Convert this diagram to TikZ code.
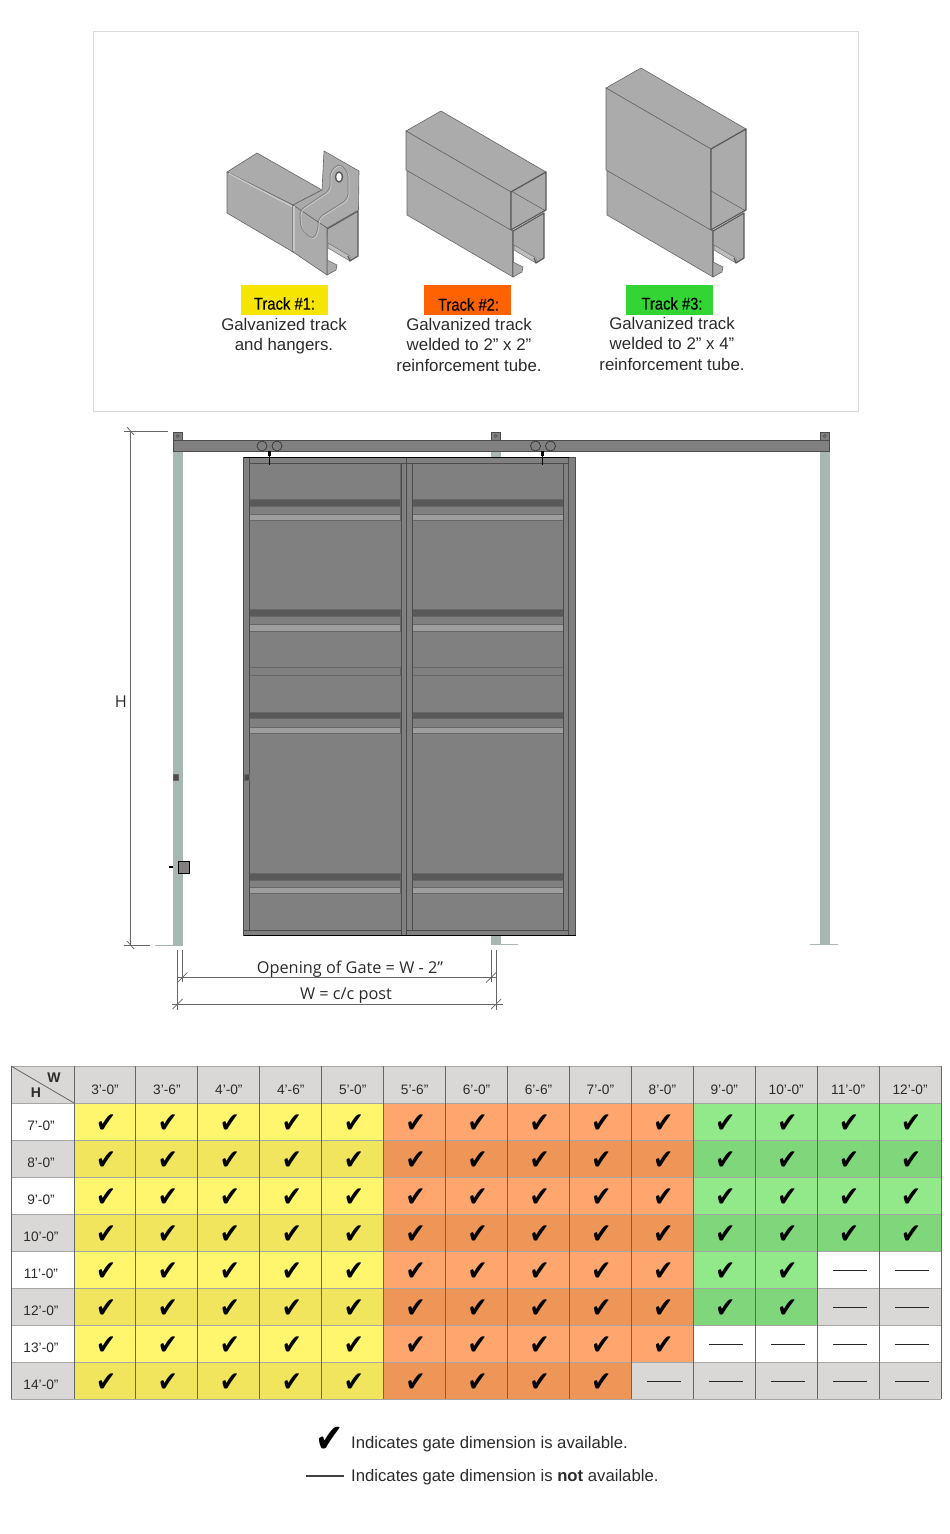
\documentclass[tikz,border=0pt]{standalone}
\usepackage{fontspec}
\setmainfont{Liberation Sans}
\newfontfamily\dimfont{Open Sans}
\newfontfamily\trackfont[FakeStretch=0.87,FakeBold=0.4]{Liberation Sans}
\newfontfamily\markfont[FakeStretch=0.85]{DejaVu Sans}
\definecolor{yel}{HTML}{FFF66E}
\definecolor{yelD}{HTML}{F0E55C}
\definecolor{ora}{HTML}{FFA56E}
\definecolor{oraD}{HTML}{EE9558}
\definecolor{gre}{HTML}{92E98A}
\definecolor{greD}{HTML}{7FD67B}
\definecolor{non}{HTML}{FFFFFF}
\definecolor{nonD}{HTML}{D9D8D6}
\definecolor{steel}{HTML}{ABABAB}
\definecolor{post}{HTML}{A6B8B1}
\definecolor{gatefill}{HTML}{808080}
\definecolor{txt}{HTML}{2B2B2B}
\definecolor{tagA}{HTML}{F5E500}
\definecolor{tagB}{HTML}{FF6200}
\definecolor{tagC}{HTML}{33D534}
\tikzset{
  face/.style={fill=steel,draw=black!60,line width=.6pt,line join=round},
  rimline/.style={draw=black!65,line width=1.2pt,line join=round},
  bar/.style={fill=gatefill,draw=black!70,line width=.7pt},
  dimline/.style={draw=black!60,line width=.8pt},
  tickline/.style={draw=black!60,line width=.7pt},
  captext/.style={font=\fontsize{16.85}{20.5}\selectfont,text=txt,align=center,inner sep=0pt},
  tag/.style={font=\trackfont\fontsize{17}{18}\selectfont,text=black,inner sep=0pt},
  dimtext/.style={font=\dimfont\fontsize{16.3}{18}\selectfont,text=txt,inner sep=0pt},
  cell/.style={font=\fontsize{13.7}{16}\selectfont,text=txt,inner sep=0pt},
  keytext/.style={font=\fontsize{16.7}{18}\selectfont,text=txt,inner sep=0pt,anchor=west},
  okmark/.style={font=\markfont\fontsize{28}{28}\selectfont,text=black,inner sep=0pt}
}
\newcommand{\trackend}[2]{
  \begin{scope}[xshift=#1pt,yshift=#2pt]
    \fill[steel] (713,231) -- (744,213) -- (744,258) -- (736,263) -- (714,250) -- cycle;
    \draw[fill=black!25,draw=black!55,line width=.5pt] (714,245) -- (736,258) -- (736,263) -- (714,250) -- cycle;
    \draw[rimline] (713,277) -- (713,231) -- (744,213) -- (744,258) -- (736,263) -- (734,258);
    \draw[face] (713,262) -- (723,267) -- (722,272) -- (713,277) -- cycle;
  \end{scope}
}
\begin{document}
\begin{tikzpicture}[x=1pt,y=-1pt]
  \useasboundingbox (0,0) rectangle (950,1534);
  \draw[black!14,line width=.8pt] (93.5,31.5) rectangle (858.5,411.5);

  \draw[face] (227,172) -- (257,153) -- (322,190) -- (293,205) -- cycle;
  \draw[face] (227,172) -- (293,205) -- (293,252) -- (227,213) -- cycle;
  \draw[black!20,line width=1.2pt] (229,173.5) -- (292,206.5);
  \trackend{-386}{2}
  \draw[face] (322,190) -- (324,151) -- (359,171) -- (358.5,210) -- (327,228) -- (293,205) -- cycle;
  \draw[face] (293,205) -- (327,228) -- (327,275) -- (293,252) -- cycle;
  \draw[black!22,line width=1.4pt] (294,206) -- (294,251);
  \foreach \off/\shade in {.9/black!20,0/black!50}
    \draw[\shade,line width=.8pt,rounded corners=5pt,shift={(\off,\off)}] (300,218) -- (301,229) -- (313,240) -- (318,230) -- (318,218) -- (348,199) -- (348,172) -- (339,163) -- (330,172) -- (330,190) -- (300,210) -- cycle;
  \draw[fill=white,draw=black!65,line width=1.4pt] (339,177) ellipse (3.5 and 5);

  \foreach \sx/\ty in {-200/43,0/0}{
    \begin{scope}[xshift=\sx pt]
      \draw[face] (606,88+\ty) -- (641,68+\ty) -- (746,129+\ty) -- (711,149+\ty) -- cycle;
      \draw[face] (607,170) -- (607,215) -- (713,277) -- (713,231) -- cycle;
      \draw[face] (606,88+\ty) -- (711,149+\ty) -- (711,230) -- (606,170) -- cycle;
      \fill[steel] (711,149+\ty) -- (746,129+\ty) -- (746,210) -- (711,230) -- cycle;
      \draw[black!60,line width=.6pt] (711,191) -- (746,211);
      \draw[rimline] (711,230) -- (711,149+\ty) -- (746,129+\ty) -- (746,210) -- (711,230);
    \end{scope}
    \trackend{\sx}{0}
  }

  \fill[tagA] (241,285) rectangle (328,315);
  \fill[tagB] (424,285) rectangle (511,315);
  \fill[tagC] (626,285) rectangle (713,315);
  \node[tag] (labA) at (284.5,303.5) {Track \#1:};
  \node[tag] (labB) at (468.5,304.5) {Track \#2:};
  \node[tag] (labC) at (672,303.5) {Track \#3:};
  \node[captext,anchor=north] (capA) at (284,318) {Galvanized track\\and hangers.};
  \node[captext,anchor=north] (capB) at (469,318) {Galvanized track\\welded to 2” x 2”\\reinforcement tube.};
  \node[captext,anchor=north] (capC) at (672,317) {Galvanized track\\welded to 2” x 4”\\reinforcement tube.};

  \foreach \x in {173,491,820}{
    \fill[post] (\x,451) rectangle (\x+9.5,945);
    \draw[bar] (\x,432) rectangle (\x+9.5,440);
    \draw[black!70,line width=.5pt] (\x+4.7,436) circle (1.5);
  }
  \draw[post,line width=1pt] (155,945) -- (183,945);
  \draw[post,line width=1pt] (491,944.5) -- (518,944.5);
  \draw[post,line width=1pt] (810,944.5) -- (838,944.5);

  \draw[bar] (243.5,457.5) rectangle (575.5,935.5);
  \foreach \x in {249.5,412}{
    \foreach \a/\b/\shade in {463/499/gatefill,499/506/black!65,506/514/gatefill,514/520/black!38,
      609/616/black!65,616/624/gatefill,624/631/black!38,667/675/gatefill,
      712/718/black!65,718/727/gatefill,727/733/black!38,873/880/black!65,880/887/gatefill,887/893/black!38}{
      \draw[fill=\shade,draw=black!60,line width=.5pt] (\x,\a) rectangle (\x+151,\b);
    }
  }
  \draw[bar] (243.5,457.5) rectangle (249.5,935.5);
  \draw[bar] (401,463) rectangle (406,935.5);
  \draw[bar] (406,457.5) rectangle (412,935.5);
  \draw[bar] (563,463) rectangle (568.5,935.5);
  \draw[bar] (568.5,457.5) rectangle (575.5,935.5);
  \draw[bar] (243.5,930) rectangle (401,935.5);
  \draw[bar] (406,930) rectangle (568.5,935.5);
  \draw[bar] (249.5,457.5) rectangle (406,463);
  \draw[bar] (406,457.5) rectangle (568.5,463);
  \draw[black,line width=1pt] (243.5,935.5) -- (575.5,935.5);
  \draw[black,line width=1pt] (243.5,457.5) -- (568.5,457.5);

  \draw[bar] (173,440.5) rectangle (829,451);
  \foreach \x in {262,277,535.5,550.5}
    \draw[black!80,line width=.7pt] (\x,446) circle (5);
  \foreach \x in {269.5,542.5}{
    \draw[black,line width=3pt] (\x,451) -- (\x,456);
    \draw[black,line width=1.2pt] (\x,456) -- (\x,465);
  }
  \foreach \x in {176,247}
    \draw[fill=black!70,draw=black!60,line width=.5pt] (\x-2.5,774) rectangle (\x+2.5,780);
  \draw[fill=gatefill,draw=black,line width=.8pt] (178,861) rectangle (189,873);
  \coordinate (latchA) at (169,867);
  \coordinate (latchB) at (173,867);
  \draw[black,line width=1.2pt] (latchA) -- (latchB);

  \coordinate (hTop) at (130.5,431.5);
  \coordinate (hBot) at (130.5,945);
  \coordinate (hTopL) at (124,431.5);
  \coordinate (hTopR) at (168,431.5);
  \coordinate (hBotL) at (124,945);
  \coordinate (hBotR) at (150,945);
  \coordinate (wLa) at (177.7,950);
  \coordinate (wLb) at (177.7,1010);
  \coordinate (oLa) at (182.3,950);
  \coordinate (oLb) at (182.3,982);
  \coordinate (oRa) at (491,950);
  \coordinate (oRb) at (491,982);
  \coordinate (wRa) at (496,950);
  \coordinate (wRb) at (496,1010);
  \coordinate (oA) at (176.5,977.5);
  \coordinate (oB) at (497,977.5);
  \coordinate (wA) at (172,1004);
  \coordinate (wB) at (503,1004);
  \foreach \from/\to in {hTop/hBot,hTopL/hTopR,hBotL/hBotR,wLa/wLb,oLa/oLb,oRa/oRb,wRa/wRb,oA/oB,wA/wB}
    \draw[dimline] (\from) -- (\to);
  \draw[tickline] (127,427) -- (134,435);
  \draw[tickline] (127,941) -- (134,949);
  \foreach \x/\y in {182.3/977.5,491/977.5,177.7/1004,496/1004}
    \draw[tickline] (\x-5,\y+5) -- (\x+5,\y-5);
  \node[dimtext] (labH) at (121,702) {H};
  \node[dimtext] (labO) at (350,969.5) {Opening of Gate = W - 2”};
  \node[dimtext] (labW) at (346,996) {W = c/c post};

  \fill[nonD] (11,1066) rectangle (941,1103);
  \foreach \lab/\n/\col [count=\cl] in {3’-0”/8/yel,3’-6”/8/yel,4’-0”/8/yel,4’-6”/8/yel,5’-0”/8/yel,
    5’-6”/8/ora,6’-0”/8/ora,6’-6”/8/ora,7’-0”/8/ora,8’-0”/7/ora,
    9’-0”/6/gre,10’-0”/6/gre,11’-0”/4/gre,12’-0”/4/gre}{
    \pgfmathsetmacro\xa{74+(\cl-1)*61.93}
    \node[cell] (h\cl) at (\xa+31,1090) {\lab};
    \foreach \rw in {1,...,8}{
      \pgfmathsetmacro\ya{1103+(\rw-1)*37}
      \ifnum\rw>\n \def\tone{non}\else \edef\tone{\col}\fi
      \ifodd\rw\else \edef\tone{\tone D}\fi
      \fill[\tone] (\xa,\ya) rectangle (\xa+61.93,\ya+37);
      \ifnum\rw>\n
        \draw[black!85,line width=1pt] (\xa+16,\ya+19.5) -- (\xa+50,\ya+19.5);
      \else
        \node[okmark] (c\cl-\rw) at (\xa+32,\ya+20.5) {✔};
      \fi
    }
  }
  \foreach \lab [count=\rw] in {7’-0”,8’-0”,9’-0”,10’-0”,11’-0”,12’-0”,13’-0”,14’-0”}{
    \pgfmathsetmacro\ya{1103+(\rw-1)*37}
    \ifodd\rw \fill[non] (11,\ya) rectangle (74,\ya+37); \else \fill[nonD] (11,\ya) rectangle (74,\ya+37); \fi
    \node[cell] (r\rw) at (41,\ya+23) {\lab};
  }
  \foreach \rw in {0,...,8}
    \draw[black!35,line width=.8pt] (11,1103+\rw*37) -- (941,1103+\rw*37);
  \draw[black!35,line width=.8pt] (11,1066) -- (941,1066);
  \foreach \cl in {0,...,14}
    \draw[black!60,line width=.9pt] (74+\cl*61.93,1066) -- (74+\cl*61.93,1399);
  \draw[black!60,line width=.9pt] (11,1066) -- (11,1399);
  \coordinate (hdA) at (11,1066);
  \coordinate (hdB) at (74,1103);
  \draw[black!60,line width=.8pt] (hdA) -- (hdB);
  \node[font=\bfseries\fontsize{14}{16}\selectfont,text=txt,inner sep=0pt] (hdW) at (54,1078) {W};
  \node[font=\bfseries\fontsize{14}{16}\selectfont,text=txt,inner sep=0pt] (hdH) at (36,1093) {H};

  \node[okmark,font=\markfont\fontsize{40}{40}\selectfont] (keyA) at (330,1440) {✔};
  \node[keytext] (keyB) at (351,1444.5) {Indicates gate dimension is available.};
  \coordinate (keyLa) at (306,1476);
  \coordinate (keyLb) at (344,1476);
  \draw[black!75,line width=1.2pt] (keyLa) -- (keyLb);
  \node[keytext] (keyC) at (351,1477.5) {Indicates gate dimension is \textbf{not} available.};
\end{tikzpicture}
\end{document}
